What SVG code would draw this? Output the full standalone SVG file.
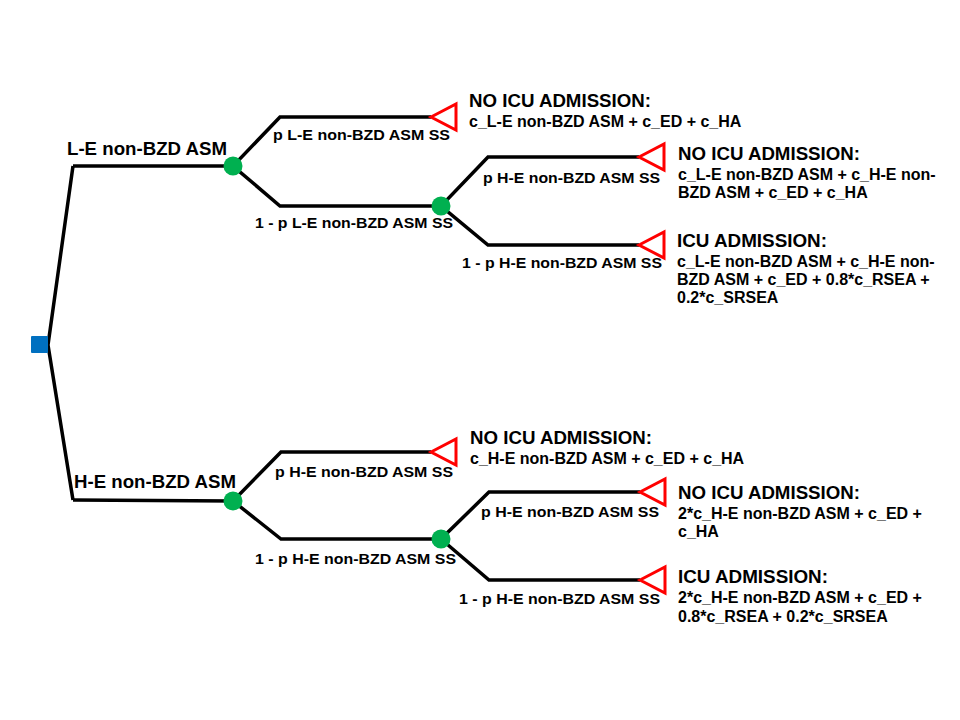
<svg xmlns="http://www.w3.org/2000/svg" width="960" height="720" viewBox="0 0 960 720">
<style>
.ln{fill:none;stroke:#000;stroke-width:3.5;stroke-linejoin:miter}
.ch{fill:#00B050}
.tm{fill:#fff;stroke:#FF0000;stroke-width:3;stroke-linejoin:miter}
.dc{fill:#0070C0}
text{font-family:"Liberation Sans",Arial,sans-serif;font-weight:bold;fill:#000}
.big{font-size:18px}
.br{font-size:15.5px}
.hd{font-size:18px}
.fm{font-size:16px}
</style>
<rect width="960" height="720" fill="#fff"/>
<g id="connectors">
<polyline class="ln" points="73,166 48,345 73,500"/>
<polyline class="ln" points="73,166 233,166"/>
<polyline class="ln" points="73,500 233,501"/>
<polyline class="ln" points="431,117 280,117 233,166 280,206 441,206"/>
<polyline class="ln" points="639,157 488,157 441,206 488,245 639,245"/>
<polyline class="ln" points="431,452 281,452 233,501 281,539 441,539"/>
<polyline class="ln" points="640,492 489,492 441,539 489,580 640,580"/>
</g>
<g id="decision"><rect class="dc" x="31" y="336" width="17" height="17" rx="1"/></g>
<g id="chance1"><circle class="ch" cx="233" cy="166" r="9.5"/></g>
<g id="chance2"><circle class="ch" cx="441" cy="206" r="9.5"/></g>
<g id="chance3"><circle class="ch" cx="233" cy="501" r="9.5"/></g>
<g id="chance4"><circle class="ch" cx="441" cy="539" r="9.5"/></g>
<g id="term1"><polygon class="tm" points="431,117 456,104 456,130"/>
<text class="hd" x="469" y="107" textLength="182" lengthAdjust="spacingAndGlyphs">NO ICU ADMISSION:</text>
<text class="fm" x="469" y="127">c_L-E non-BZD ASM + c_ED + c_HA</text></g>
<g id="term2"><polygon class="tm" points="639,157 664,144 664,170"/>
<text class="hd" x="678" y="160" textLength="182" lengthAdjust="spacingAndGlyphs">NO ICU ADMISSION:</text>
<text class="fm" x="678" y="180">c_L-E non-BZD ASM + c_H-E non-</text>
<text class="fm" x="678" y="198">BZD ASM + c_ED + c_HA</text></g>
<g id="term3"><polygon class="tm" points="639,245 664,232 664,258"/>
<text class="hd" x="677" y="247" textLength="150" lengthAdjust="spacingAndGlyphs">ICU ADMISSION:</text>
<text class="fm" x="677" y="267">c_L-E non-BZD ASM + c_H-E non-</text>
<text class="fm" x="677" y="285">BZD ASM + c_ED + 0.8*c_RSEA +</text>
<text class="fm" x="677" y="303">0.2*c_SRSEA</text></g>
<g id="term4"><polygon class="tm" points="431,452 456,439 456,465"/>
<text class="hd" x="470" y="444" textLength="182" lengthAdjust="spacingAndGlyphs">NO ICU ADMISSION:</text>
<text class="fm" x="470" y="464">c_H-E non-BZD ASM + c_ED + c_HA</text></g>
<g id="term5"><polygon class="tm" points="640,492 665,479 665,505"/>
<text class="hd" x="678" y="499" textLength="182" lengthAdjust="spacingAndGlyphs">NO ICU ADMISSION:</text>
<text class="fm" x="678" y="519">2*c_H-E non-BZD ASM + c_ED +</text>
<text class="fm" x="678" y="537">c_HA</text></g>
<g id="term6"><polygon class="tm" points="640,580 665,567 665,593"/>
<text class="hd" x="678" y="583" textLength="150" lengthAdjust="spacingAndGlyphs">ICU ADMISSION:</text>
<text class="fm" x="678" y="603">2*c_H-E non-BZD ASM + c_ED +</text>
<text class="fm" x="678" y="622">0.8*c_RSEA + 0.2*c_SRSEA</text></g>
<g id="labels">
<text class="big" x="67" y="155" textLength="160" lengthAdjust="spacingAndGlyphs">L-E non-BZD ASM</text>
<text class="big" x="74" y="488" textLength="162" lengthAdjust="spacingAndGlyphs">H-E non-BZD ASM</text>
<text class="br" x="273" y="140" textLength="177" lengthAdjust="spacingAndGlyphs">p L-E non-BZD ASM SS</text>
<text class="br" x="255" y="228" textLength="198" lengthAdjust="spacingAndGlyphs">1 - p L-E non-BZD ASM SS</text>
<text class="br" x="483" y="183" textLength="177" lengthAdjust="spacingAndGlyphs">p H-E non-BZD ASM SS</text>
<text class="br" x="462" y="268" textLength="200" lengthAdjust="spacingAndGlyphs">1 - p H-E non-BZD ASM SS</text>
<text class="br" x="275" y="477" textLength="178" lengthAdjust="spacingAndGlyphs">p H-E non-BZD ASM SS</text>
<text class="br" x="255" y="564" textLength="201" lengthAdjust="spacingAndGlyphs">1 - p H-E non-BZD ASM SS</text>
<text class="br" x="481" y="517" textLength="178" lengthAdjust="spacingAndGlyphs">p H-E non-BZD ASM SS</text>
<text class="br" x="459" y="604" textLength="201" lengthAdjust="spacingAndGlyphs">1 - p H-E non-BZD ASM SS</text>
</g>
</svg>
